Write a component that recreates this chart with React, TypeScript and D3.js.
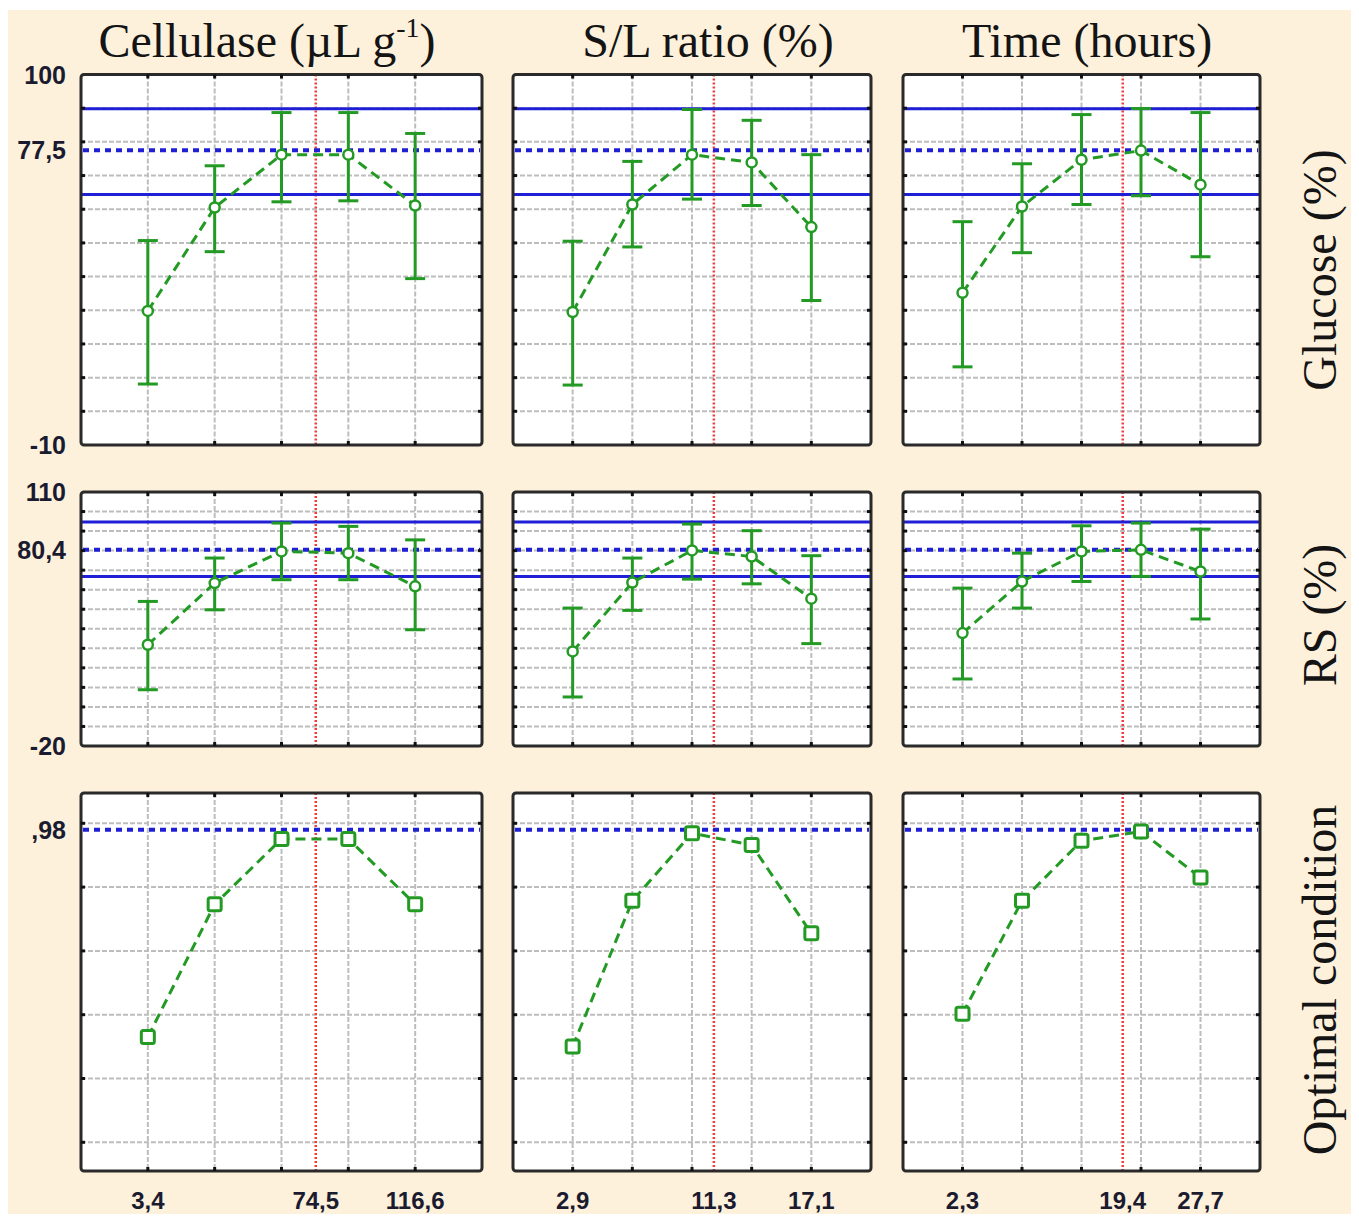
import React, { useRef, useEffect } from "react";
import * as d3 from "d3";

// factor levels (x) for each column
const levelsCellulase = [3.4, 31.7, 60, 88.3, 116.6];
const levelsRatio = [2.9, 6.45, 10, 13.55, 17.1];
const levelsTime = [2.3, 8.65, 15, 21.35, 27.7];
const optimum = [74.5, 11.3, 19.4];
const xTickValues = [[3.4, 74.5, 116.6], [2.9, 11.3, 17.1], [2.3, 19.4, 27.7]];

const titles = ["Cellulase (µL g", "S/L ratio (%)", "Time (hours)"];
const rowLabels = ["Glucose (%)", "RS (%)", "Optimal condition"];

// glucose (%) predicted mean with confidence limits
const glucoseMean = [[29.8, 60.5, 76.2, 76.2, 61.1], [29.5, 61.4, 76.2, 73.9, 54.7], [35.2, 60.8, 74.7, 77.4, 67.3]];
const glucoseLow = [[8.1, 47.4, 62.2, 62.5, 39.4], [7.8, 48.8, 63.0, 61.1, 32.9], [13.2, 47.1, 61.4, 64.0, 45.9]];
const glucoseHigh = [[50.7, 72.9, 88.7, 88.7, 82.5], [50.5, 74.2, 89.6, 86.4, 76.2], [56.3, 73.5, 88.1, 89.9, 88.7]];
const glucoseOpt = 77.5;
const glucoseBand = [64.4, 89.8];

// reducing sugars (%)
const rsMean = [[31.8, 63.4, 79.6, 78.7, 61.7], [28.4, 63.7, 80.1, 77.0, 55.4], [37.8, 64.2, 79.6, 80.4, 69.3]];
const rsLow = [[8.8, 49.7, 65.1, 65.1, 39.5], [5.1, 49.4, 65.4, 63.0, 32.4], [14.3, 50.6, 64.2, 66.8, 45.0]];
const rsHigh = [[54.0, 76.2, 94.1, 92.4, 85.5], [50.6, 76.2, 93.6, 90.2, 77.4], [60.8, 78.7, 92.7, 94.1, 91.0]];
const rsOpt = 80.4;
const rsBand = [66.8, 94.6];

// desirability
const desirability = [[0.33, 0.746, 0.951, 0.951, 0.746], [0.30, 0.757, 0.969, 0.932, 0.655], [0.403, 0.757, 0.945, 0.974, 0.83]];
const desirOpt = 0.98;

const yDomains = [[-10, 100], [-20, 110], [-0.09, 1.095]];
const yLabelValues = [[100, 77.5, -10], [110, 80.4, -20], [0.98]];
const yGrid = [d3.range(0, 100, 10), d3.range(-10, 110, 10), [0, 0.2, 0.4, 0.6, 0.8, 1.0]];

const App = () => {
  const chartRef = useRef<SVGSVGElement>(null);

  useEffect(() => {
    const width = 1359;
    const height = 1218;
    const colBounds = [[81, 482], [513, 871], [903, 1260]];
    const rowBounds = [[74.5, 445], [492, 746], [793, 1171]];
    const levels = [levelsCellulase, levelsRatio, levelsTime];
    const means = [glucoseMean, rsMean, desirability];
    const lows = [glucoseLow, rsLow, null];
    const highs = [glucoseHigh, rsHigh, null];
    const opts = [glucoseOpt, rsOpt, desirOpt];
    const bands = [glucoseBand, rsBand, null];

    const green = "#239a23";
    const blue = "#1f1fd6";

    d3.select(chartRef.current).selectAll("*").remove();
    const svg = d3.select(chartRef.current).attr("width", width).attr("height", height);

    svg.append("rect").attr("width", width).attr("height", height).attr("fill", "#ffffff");
    svg.append("rect")
      .attr("x", 8).attr("y", 10).attr("width", 1343).attr("height", 1204)
      .attr("fill", "#fdf1dc");

    const fmt = (d: number) => d < 1 && d > 0 ? String(d).replace("0.", ",") : String(d).replace(".", ",");

    rowBounds.forEach(([y0, y1], r) => {
      colBounds.forEach(([x0, x1], c) => {
        const lev = levels[c];
        const step = lev[1] - lev[0];
        const x = d3.scaleLinear().domain([lev[0] - step, lev[lev.length - 1] + step]).range([x0, x1]);
        const y = d3.scaleLinear().domain(yDomains[r]).range([y1, y0]);
        const g = svg.append("g");

        g.append("rect")
          .attr("x", x0).attr("y", y0).attr("width", x1 - x0).attr("height", y1 - y0)
          .attr("fill", "#ffffff");

        // grid
        g.selectAll(".vgrid").data(lev).enter().append("line")
          .attr("x1", d => x(d)).attr("x2", d => x(d))
          .attr("y1", y0).attr("y2", y1)
          .attr("stroke", "#bdbdbd").attr("stroke-width", 2).attr("stroke-dasharray", "5,2");
        g.selectAll(".hgrid").data(yGrid[r]).enter().append("line")
          .attr("x1", x0).attr("x2", x1)
          .attr("y1", d => y(d)).attr("y2", d => y(d))
          .attr("stroke", "#bdbdbd").attr("stroke-width", 2).attr("stroke-dasharray", "5,2");

        // optimum level
        g.append("line")
          .attr("x1", x(optimum[c])).attr("x2", x(optimum[c]))
          .attr("y1", y0).attr("y2", y1)
          .attr("stroke", "#f23c3c").attr("stroke-width", 2.5).attr("stroke-dasharray", "2,2");

        // predicted value band
        const band = bands[r];
        if (band) {
          g.selectAll(".band").data(band).enter().append("line")
            .attr("x1", x0).attr("x2", x1)
            .attr("y1", d => y(d)).attr("y2", d => y(d))
            .attr("stroke", blue).attr("stroke-width", 3);
        }
        g.append("line")
          .attr("x1", x0 + 2).attr("x2", x1 - 2)
          .attr("y1", y(opts[r])).attr("y2", y(opts[r]))
          .attr("stroke", blue).attr("stroke-width", 4).attr("stroke-dasharray", "6,5");

        const pts = lev.map((d, i) => ({ x: d, v: means[r][c][i], lo: lows[r] ? lows[r]![c][i] : 0, hi: highs[r] ? highs[r]![c][i] : 0 }));

        g.append("path")
          .attr("d", d3.line<any>().x(d => x(d.x)).y(d => y(d.v))(pts))
          .attr("fill", "none").attr("stroke", green).attr("stroke-width", 3)
          .attr("stroke-dasharray", "10,6");

        if (lows[r]) {
          g.selectAll(".err").data(pts).enter().append("line")
            .attr("x1", d => x(d.x)).attr("x2", d => x(d.x))
            .attr("y1", d => y(d.lo)).attr("y2", d => y(d.hi))
            .attr("stroke", green).attr("stroke-width", 3);
          g.selectAll(".capLo").data(pts).enter().append("line")
            .attr("x1", d => x(d.x) - 10).attr("x2", d => x(d.x) + 10)
            .attr("y1", d => y(d.lo)).attr("y2", d => y(d.lo))
            .attr("stroke", green).attr("stroke-width", 3);
          g.selectAll(".capHi").data(pts).enter().append("line")
            .attr("x1", d => x(d.x) - 10).attr("x2", d => x(d.x) + 10)
            .attr("y1", d => y(d.hi)).attr("y2", d => y(d.hi))
            .attr("stroke", green).attr("stroke-width", 3);
          g.selectAll(".pt").data(pts).enter().append("circle")
            .attr("cx", d => x(d.x)).attr("cy", d => y(d.v)).attr("r", 5)
            .attr("fill", "#ffffff").attr("stroke", green).attr("stroke-width", 2.5);
        } else {
          g.selectAll(".pt").data(pts).enter().append("rect")
            .attr("x", d => x(d.x) - 6.5).attr("y", d => y(d.v) - 6.5)
            .attr("width", 13).attr("height", 13).attr("rx", 2)
            .attr("fill", "#ffffff").attr("stroke", green).attr("stroke-width", 3);
        }

        // frame and ticks
        g.append("rect")
          .attr("x", x0).attr("y", y0).attr("width", x1 - x0).attr("height", y1 - y0)
          .attr("rx", 3)
          .attr("fill", "none").attr("stroke", "#2a2a2a").attr("stroke-width", 3);
        lev.forEach(d => {
          g.append("line").attr("x1", x(d)).attr("x2", x(d)).attr("y1", y0).attr("y2", y0 + 4)
            .attr("stroke", "#111").attr("stroke-width", 3);
          g.append("line").attr("x1", x(d)).attr("x2", x(d)).attr("y1", y1 - 4).attr("y2", y1)
            .attr("stroke", "#111").attr("stroke-width", 3);
        });
        yGrid[r].forEach(d => {
          g.append("line").attr("x1", x0).attr("x2", x0 + 4).attr("y1", y(d)).attr("y2", y(d))
            .attr("stroke", "#111").attr("stroke-width", 3);
          g.append("line").attr("x1", x1 - 4).attr("x2", x1).attr("y1", y(d)).attr("y2", y(d))
            .attr("stroke", "#111").attr("stroke-width", 3);
        });

        // y labels on first column
        if (c === 0) {
          g.selectAll(".ylab").data(yLabelValues[r]).enter().append("text")
            .attr("x", 66).attr("y", d => y(d))
            .attr("dy", "0.36em")
            .attr("text-anchor", "end")
            .attr("font-family", "Liberation Sans, Arial, sans-serif")
            .attr("font-weight", "bold").attr("font-size", 25)
            .attr("fill", "#1b1b30")
            .text(d => fmt(d));
        }

        // x labels on last row
        if (r === 2) {
          g.selectAll(".xlab").data(xTickValues[c]).enter().append("text")
            .attr("x", d => x(d)).attr("y", 1209)
            .attr("text-anchor", "middle")
            .attr("font-family", "Liberation Sans, Arial, sans-serif")
            .attr("font-weight", "bold").attr("font-size", 24)
            .attr("fill", "#1b1b30")
            .text(d => fmt(d));
        }
      });
    });

    // column titles
    const titleX = [267, 708, 1087];
    titles.forEach((t, c) => {
      const txt = svg.append("text")
        .attr("x", titleX[c]).attr("y", 57)
        .attr("text-anchor", "middle")
        .attr("font-family", "Liberation Serif, Times New Roman, serif")
        .attr("font-size", 48).attr("fill", "#141414");
      txt.append("tspan").text(t);
      if (c === 0) {
        txt.append("tspan").attr("font-size", 28).attr("dy", -20).text("-1");
        txt.append("tspan").attr("dy", 20).text(")");
      }
    });

    // row labels
    const rowY = [270, 615, 980];
    rowLabels.forEach((t, r) => {
      svg.append("text")
        .attr("transform", `translate(1336, ${rowY[r]}) rotate(-90)`)
        .attr("text-anchor", "middle")
        .attr("font-family", "Liberation Serif, Times New Roman, serif")
        .attr("font-size", 48).attr("fill", "#141414")
        .text(t);
    });
  }, []);

  return <svg ref={chartRef} style={{ position: "absolute", left: 0, top: 0 }}></svg>;
};

export default App;
